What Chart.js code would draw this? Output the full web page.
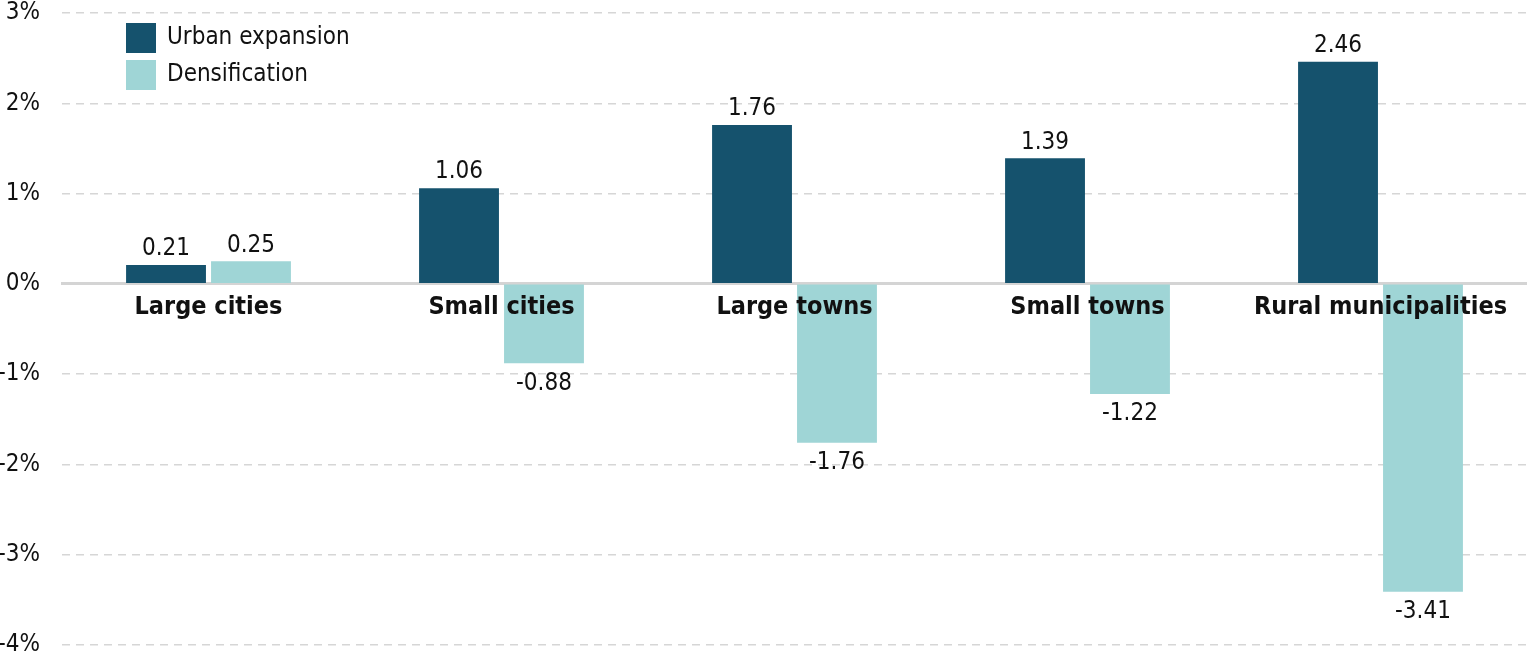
<!DOCTYPE html>
<html>
<head>
<meta charset="utf-8">
<script src="https://cdn.jsdelivr.net/npm/chart.js@4"></script>
<style>
    body { margin: 0; background: #ffffff; }
    #wrap { width: 1527px; height: 655px; position: relative; }
</style>
</head>
<body>
<div id="wrap"><canvas id="growthChart"></canvas></div>
<script>
// Chart data
const CATEGORIES = ['Large cities', 'Small cities', 'Large towns', 'Small towns', 'Rural municipalities'];
const URBAN_EXPANSION = [0.21, 1.06, 1.76, 1.39, 2.46];
const DENSIFICATION = [0.25, -0.88, -1.76, -1.22, -3.41];
const SERIES_NAMES = ['Urban expansion', 'Densification'];

// Axis range
const Y_MIN = -4;
const Y_MAX = 3;
const Y_STEP = 1;

// UI Constants
const FONT_FAMILY = "'Liberation Sans Narrow', 'Arial Narrow', 'DejaVu Sans Condensed', sans-serif";
const COLORS = {
    dark: '#15526d',
    light: '#9fd5d6',
    text: '#111111',
    grid: '#d6d6d6',
    zero: '#d4d4d4'
};

// Value labels above / below each bar
const valueLabels = {
    id: 'valueLabels',
    afterDatasetsDraw(chart) {
        const ctx = chart.ctx;
        ctx.save();
        ctx.font = '24px ' + FONT_FAMILY;
        ctx.fillStyle = COLORS.text;
        ctx.textAlign = 'center';
        chart.data.datasets.forEach((ds, i) => {
            chart.getDatasetMeta(i).data.forEach((bar, j) => {
                const v = ds.data[j];
                if (v >= 0) {
                    ctx.textBaseline = 'bottom';
                    ctx.fillText(v.toFixed(2), bar.x, bar.y - 4);
                } else {
                    ctx.textBaseline = 'top';
                    ctx.fillText(v.toFixed(2), bar.x, bar.y + 8);
                }
            });
        });
        ctx.restore();
    }
};

// Legend drawn inside the plot area, top-left
const insideLegend = {
    id: 'insideLegend',
    afterDraw(chart) {
        const ctx = chart.ctx;
        const x0 = chart.chartArea.left + 64;
        const y0 = chart.chartArea.top + 10;
        ctx.save();
        ctx.font = '24px ' + FONT_FAMILY;
        ctx.textBaseline = 'middle';
        ctx.textAlign = 'left';
        chart.data.datasets.forEach((ds, i) => {
            const y = y0 + i * 37;
            ctx.fillStyle = ds.backgroundColor;
            ctx.fillRect(x0, y, 30, 30);
            ctx.fillStyle = COLORS.text;
            ctx.fillText(ds.label, x0 + 41, y + 15);
        });
        ctx.restore();
    }
};

const ctx = document.getElementById('growthChart').getContext('2d');

new Chart(ctx, {
    type: 'bar',
    data: {
        labels: CATEGORIES,
        datasets: [{
            label: SERIES_NAMES[0],
            data: URBAN_EXPANSION,
            backgroundColor: COLORS.dark,
            categoryPercentage: 0.58,
            barPercentage: 0.94
        }, {
            label: SERIES_NAMES[1],
            data: DENSIFICATION,
            backgroundColor: COLORS.light,
            categoryPercentage: 0.58,
            barPercentage: 0.94
        }]
    },
    options: {
        responsive: true,
        maintainAspectRatio: false,
        animation: false,
        layout: { padding: 0 },
        plugins: {
            legend: { display: false },
            tooltip: { enabled: false }
        },
        scales: {
            x: {
                position: { y: 0 },
                grid: { display: true, drawOnChartArea: false, drawTicks: false },
                border: { display: true, color: COLORS.zero, width: 3 },
                ticks: {
                    z: 1, // category names sit on top of the bars
                    color: COLORS.text,
                    padding: 9,
                    maxRotation: 0,
                    autoSkip: false,
                    font: { family: FONT_FAMILY, size: 25, weight: 'bold' }
                }
            },
            y: {
                min: Y_MIN,
                max: Y_MAX,
                border: { display: false, dash: [8, 6] },
                grid: {
                    drawTicks: false,
                    lineWidth: 1.5,
                    color: (c) => c.tick && c.tick.value === 0 ? 'rgba(0,0,0,0)' : COLORS.grid
                },
                ticks: {
                    stepSize: Y_STEP,
                    color: COLORS.text,
                    padding: 22,
                    font: { family: FONT_FAMILY, size: 24 },
                    callback: (v) => v + '%'
                },
                afterFit(scale) {
                    scale.width = 62;
                    scale.paddingTop = 13;
                    scale.paddingBottom = 10;
                }
            }
        }
    },
    plugins: [valueLabels, insideLegend]
});
</script>
</body>
</html>
